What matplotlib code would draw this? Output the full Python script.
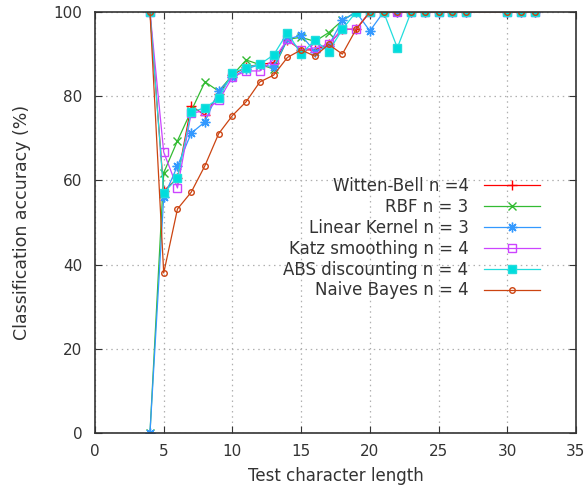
import numpy as np
import matplotlib
matplotlib.use("Agg")
import matplotlib.pyplot as plt

# Test character length (no runs at 28, 29)
lengths = [4, 5, 6, 7, 8, 9, 10, 11, 12, 13, 14, 15, 16, 17, 18, 19, 20,
           21, 22, 23, 24, 25, 26, 27, 30, 31, 32]

witten_bell = [100, 57.5, 60.5, 77.7, 75.5, 80.5, 85.0, 87.0, 87.5, 88.0, 93.3, 91.0,
               91.0, 92.3, 95.9, 95.9, 100, 100, 100, 100, 100, 100, 100, 100, 100, 100, 100]
rbf = [0, 61.8, 69.4, 76.5, 83.4, 81.2, 85.0, 88.6, 87.5, 86.5, 93.5, 94.0,
       93.0, 95.1, 98.0, 100, 100, 100, 100, 100, 100, 100, 100, 100, 100, 100, 100]
linear_kernel = [0, 56.0, 63.4, 71.2, 73.9, 81.3, 84.5, 86.5, 87.5, 87.0, 93.5, 94.5,
                 90.6, 92.0, 98.0, 100, 95.5, 100, 100, 100, 100, 100, 100, 100, 100, 100, 100]
katz = [100, 66.7, 58.2, 76.0, 76.5, 79.0, 84.5, 86.0, 86.0, 88.7, 93.5, 91.0,
        91.5, 92.3, 95.9, 95.9, 100, 100, 100, 100, 100, 100, 100, 100, 100, 100, 100]
abs_disc = [100, 57.0, 60.6, 76.3, 77.2, 79.5, 85.5, 86.8, 87.6, 89.8, 95.1, 90.0,
            93.3, 90.6, 95.9, 100, 100, 100, 91.5, 100, 100, 100, 100, 100, 100, 100, 100]
naive_bayes = [100, 38.0, 53.2, 57.2, 63.5, 71.1, 75.4, 78.7, 83.4, 85.0, 89.2, 91.0,
               89.5, 92.3, 90.0, 95.9, 100, 100, 100, 100, 100, 100, 100, 100, 100, 100, 100]

# gnuplot-like asterisk: + and x overlaid
asterisk = (8, 2, 0)

series = [
    ("Witten-Bell n =4", witten_bell, "#ff0000", "+", "#ff0000", 7),
    ("RBF n = 3", rbf, "#33bb33", "x", "#33bb33", 6),
    ("Linear Kernel n = 3", linear_kernel, "#3399ff", asterisk, "#1f7fff", 7),
    ("Katz smoothing n = 4", katz, "#cc44ff", "s", "none", 5.5),
    ("ABS discounting n = 4", abs_disc, "#22dddd", "s", "#00dddd", 6),
    ("Naive Bayes n = 4", naive_bayes, "#cc4411", "o", "none", 4),
]

fig = plt.figure(figsize=(5.85, 4.92), dpi=100)
ax = fig.add_axes([0.1624, 0.12, 0.8222, 0.8556])

for label, vals, color, marker, face, ms in series:
    ax.plot(lengths, vals, color=color, lw=0.9, marker=marker, markersize=ms,
            markerfacecolor=face, markeredgecolor=color, markeredgewidth=1.0,
            label=label)

ax.set_xlim(0, 35)
ax.set_ylim(0, 100)
ax.set_xticks(np.arange(0, 36, 5))
ax.set_yticks(np.arange(0, 101, 20))
ax.tick_params(direction="in", top=True, right=True, length=5, labelsize=11,
               colors="#333333")
ax.tick_params(axis="x", pad=8)
ax.tick_params(axis="y", pad=9)
ax.grid(True, color="#b0b0b0", linestyle=(0, (1.2, 3)), linewidth=0.9)
for sp in ax.spines.values():
    sp.set_color("#333333")
    sp.set_linewidth(1.2)

ax.set_xlabel("Test character length", fontsize=12, color="#333333", labelpad=6)
ax.set_ylabel("Classification accuracy (%)", fontsize=12.5, color="#333333", labelpad=16)

leg = ax.legend(loc="upper right", bbox_to_anchor=(0.95, 0.635), markerfirst=False,
                frameon=False, fontsize=12, handlelength=3.4, handletextpad=0.9,
                labelspacing=0.17, numpoints=1, borderaxespad=0.3)
for t in leg.get_texts():
    t.set_color("#333333")

fig.savefig("out.png", dpi=100)
